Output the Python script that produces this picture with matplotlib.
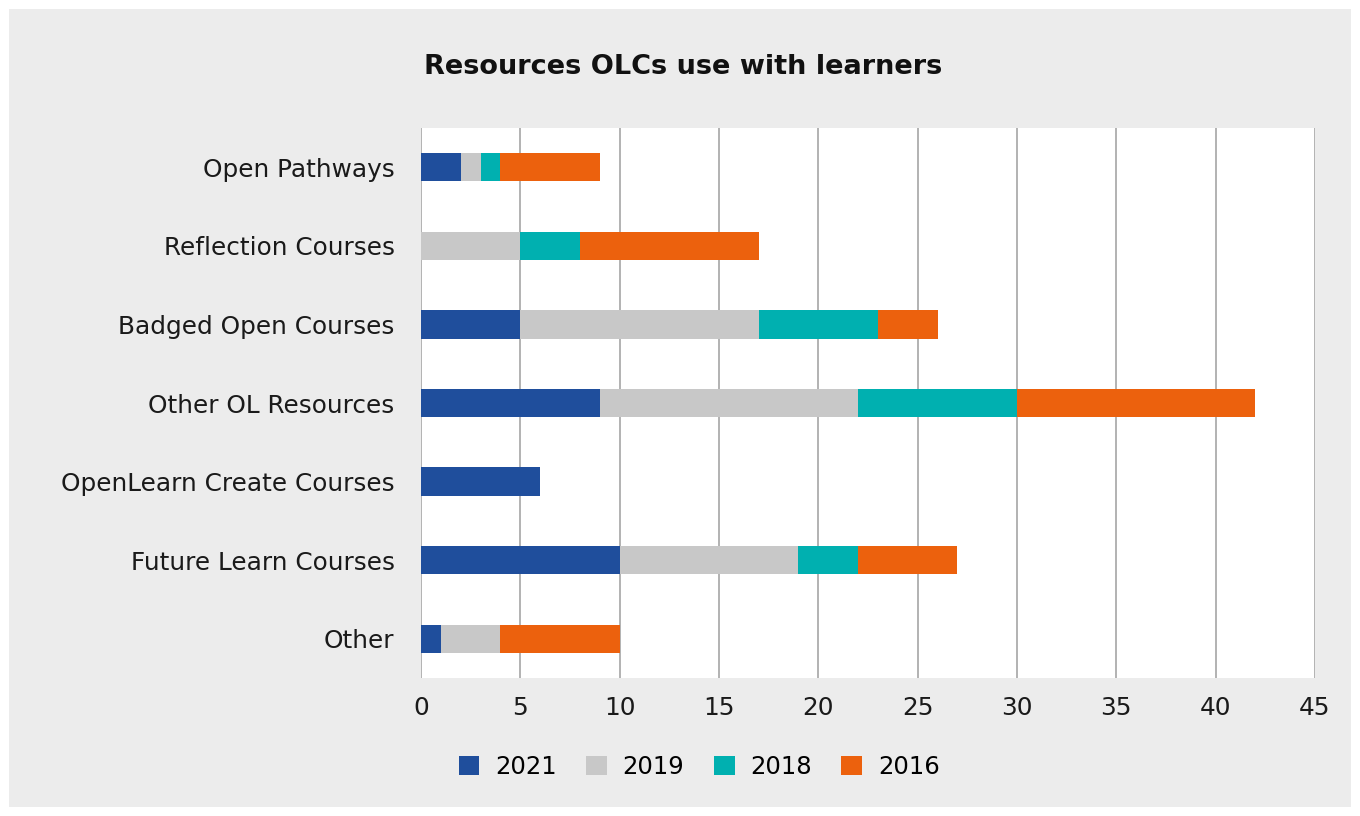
import matplotlib.pyplot as plt
import numpy as np
from matplotlib.patches import Rectangle

categories = ['Open Pathways', 'Reflection Courses', 'Badged Open Courses',
              'Other OL Resources', 'OpenLearn Create Courses',
              'Future Learn Courses', 'Other']
years = ['2021', '2019', '2018', '2016']
v2021 = [2, 0, 5, 9, 6, 10, 1]
v2019 = [1, 5, 12, 13, 0, 9, 3]
v2018 = [1, 3, 6, 8, 0, 3, 0]
v2016 = [5, 9, 3, 12, 0, 5, 6]
colors = ['#1f4e9c', '#c8c8c8', '#00b0b0', '#ec610d']

plt.rcParams['font.family'] = ['DejaVu Sans']

fig = plt.figure(figsize=(13.6, 8.16), dpi=100)
fig.patch.set_facecolor('white')
fig.patches.append(Rectangle((9 / 1360, 9 / 816), 1342 / 1360, 798 / 816,
                             transform=fig.transFigure, facecolor='#ececec',
                             edgecolor='none', zorder=-10))

ax = fig.add_axes([421 / 1360, 1 - 678 / 816, 894 / 1360, 550 / 816])
ax.set_facecolor('white')

y = np.arange(len(categories))
left = np.zeros(len(categories))
for name, vals, c in zip(years, [v2021, v2019, v2018, v2016], colors):
    ax.barh(y, vals, left=left, height=0.36, color=c, label=name, zorder=3)
    left += np.array(vals)

ax.set_xlim(0, 45)
ax.set_ylim(len(categories) - 0.5, -0.5)
ax.set_xticks(range(0, 46, 5))
ax.set_yticks(y)
ax.set_yticklabels(categories)
ax.grid(axis='x', color='#a6a6a6', linewidth=1.2, zorder=0)
for s in ax.spines.values():
    s.set_visible(False)
ax.tick_params(axis='both', length=0, labelsize=17.8, colors='#1a1a1a')
ax.tick_params(axis='x', pad=13)
ax.tick_params(axis='y', pad=19)

fig.text(0.502, 1 - 67 / 816, 'Resources OLCs use with learners', ha='center',
         va='center', fontsize=19.5, fontweight='bold', color='#111111')

fig.legend(loc='center', bbox_to_anchor=(0.514, 1 - 767 / 816), ncol=4,
           frameon=False, fontsize=17.5, handlelength=0.86, handleheight=0.86,
           columnspacing=1.2, handletextpad=0.65)

fig.savefig('out.png', dpi=100, facecolor=fig.get_facecolor())
